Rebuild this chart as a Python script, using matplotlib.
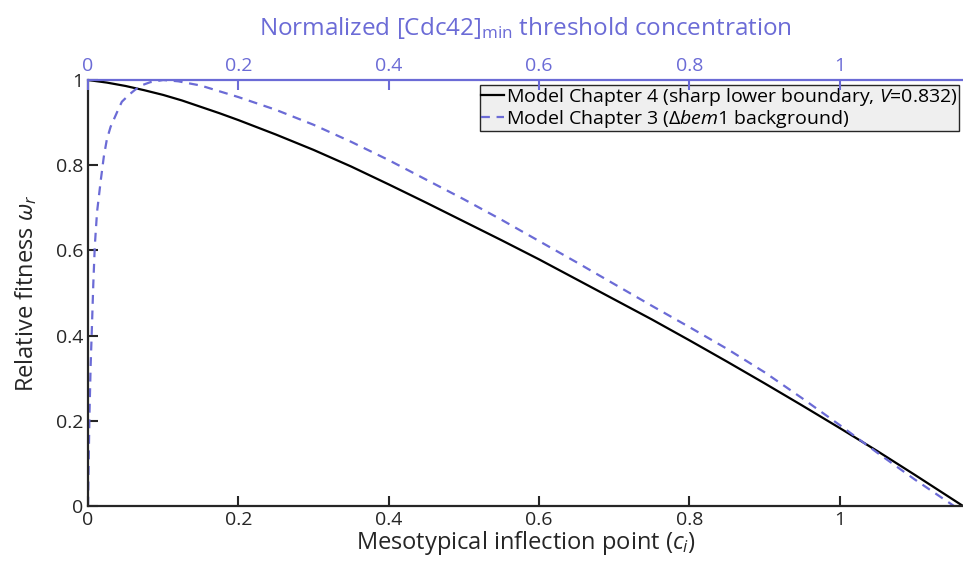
import matplotlib
matplotlib.use("Agg")
import matplotlib.pyplot as plt

plt.rcParams['font.family'] = ['Open Sans', 'DejaVu Sans']
plt.rcParams['mathtext.fontset'] = 'custom'
plt.rcParams['mathtext.rm'] = 'Open Sans'
plt.rcParams['mathtext.it'] = 'Open Sans:italic'

BLUE = '#6b6bd6'

# model chapter 4 (black solid)
x_ch4 = [0, 0.025, 0.05, 0.075, 0.1, 0.125, 0.15, 0.175, 0.2, 0.25, 0.3, 0.35, 0.4,
         0.45, 0.5, 0.55, 0.6, 0.65, 0.7, 0.75, 0.8, 0.85, 0.9, 0.95, 1.0, 1.05,
         1.1, 1.164]
y_ch4 = [1.0, 0.994, 0.986, 0.976, 0.965, 0.952, 0.937, 0.922, 0.906, 0.872, 0.836,
         0.797, 0.755, 0.712, 0.668, 0.624, 0.579, 0.532, 0.485, 0.438, 0.389, 0.339,
         0.288, 0.236, 0.183, 0.129, 0.073, 0.0]

# model chapter 3 (blue dashed)
x_ch3 = [0, 0.001, 0.002, 0.0035, 0.005, 0.007, 0.009, 0.012, 0.017, 0.021, 0.025,
         0.03, 0.034, 0.04, 0.045, 0.055, 0.0625, 0.072, 0.083, 0.1, 0.12, 0.15,
         0.2, 0.25, 0.3, 0.35, 0.4, 0.45, 0.5, 0.55, 0.6, 0.65, 0.7, 0.75,
         0.8, 0.85, 0.9, 0.95, 1.0, 1.05, 1.1, 1.152]
y_ch3 = [0, 0.12, 0.22, 0.33, 0.41, 0.52, 0.61, 0.69, 0.765, 0.82, 0.86,
         0.89, 0.906, 0.93, 0.949, 0.966, 0.977, 0.988, 0.995, 1.0, 0.997, 0.987,
         0.960, 0.930, 0.895, 0.855, 0.812, 0.766, 0.720, 0.672, 0.622, 0.572, 0.521,
         0.470, 0.420, 0.369, 0.314, 0.253, 0.190, 0.125, 0.062, 0.0]

ticks = [0, 0.2, 0.4, 0.6, 0.8, 1]
tick_labels = ['0', '0.2', '0.4', '0.6', '0.8', '1']

fig = plt.figure(figsize=(9.63, 5.72), dpi=100)
ax = fig.add_axes([0.0914, 0.1154, 0.9086, 0.7447])

ax.plot(x_ch4, y_ch4, color='black', lw=1.6,
        label='Model Chapter 4 (sharp lower boundary, $\\mathit{V}$=$\\mathit{0.832}$)')
ax.plot(x_ch3, y_ch3, color=BLUE, lw=1.6, ls=(0, (4, 3)),
        label='Model Chapter 3 ($\\Delta\\mathit{bem1}$ background)')

ax.set_xlim(0, 1.164)
ax.set_ylim(0, 1)
ax.set_xticks(ticks)
ax.set_xticklabels(tick_labels)
ax.set_yticks(ticks)
ax.set_yticklabels(tick_labels)
ax.tick_params(direction='in', length=7, width=1.5, labelsize=14, colors='#262626')
ax.spines['right'].set_visible(False)
ax.spines['top'].set_visible(False)
for s in ['left', 'bottom']:
    ax.spines[s].set_linewidth(1.6)
    ax.spines[s].set_color('#262626')

ax.set_xlabel('Mesotypical inflection point ($c_i$)', fontsize=17, color='#262626', labelpad=0)
ax.set_ylabel('Relative fitness $\\omega_r$', fontsize=17, color='#262626', labelpad=12)

top = ax.twiny()
top.set_xlim(0, 1.164)
top.set_xticks(ticks)
top.set_xticklabels(tick_labels)
top.tick_params(direction='in', length=7, width=1.5, labelsize=14, colors=BLUE)
for s in ['left', 'right', 'bottom']:
    top.spines[s].set_visible(False)
top.spines['top'].set_color(BLUE)
top.spines['top'].set_linewidth(1.6)
top.set_xlabel('Normalized [Cdc42]$_{\\mathrm{min}}$ threshold concentration',
               fontsize=17.5, color=BLUE, labelpad=16)

leg = ax.legend(loc='upper right', bbox_to_anchor=(0.995, 0.988), fontsize=14,
                frameon=True, fancybox=False, handlelength=1.2, handletextpad=0.1,
                borderpad=0.05, labelspacing=0.0, borderaxespad=0)
leg.get_frame().set_facecolor('#efefef')
leg.get_frame().set_edgecolor('#262626')
leg.get_frame().set_linewidth(1.0)
leg.get_frame().set_alpha(1)

fig.savefig('out.png', dpi=100)
